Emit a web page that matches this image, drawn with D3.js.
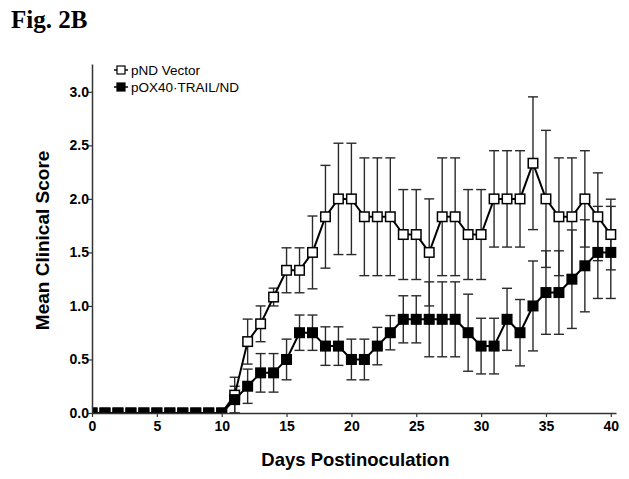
<!DOCTYPE html>
<html><head><meta charset="utf-8">
<script src="https://cdn.jsdelivr.net/npm/d3@7"></script>
<style>body{margin:0;background:#fff;}svg{display:block;}</style>
</head><body>
<script>
const days = [0,1,2,3,4,5,6,7,8,9,10,11,12,13,14,15,16,17,18,19,20,21,22,23,24,25,26,27,28,29,30,31,32,33,34,35,36,37,38,39,40];
const pndMean = [0,0,0,0,0,0,0,0,0,0,0,0.167,0.667,0.833,1.083,1.333,1.333,1.5,1.833,2.0,2.0,1.833,1.833,1.833,1.667,1.667,1.5,1.833,1.833,1.667,1.667,2.0,2.0,2.0,2.333,2.0,1.833,1.833,2.0,1.833,1.667];
const pndSem = [0,0,0,0,0,0,0,0,0,0,0,0.167,0.21,0.167,0.083,0.21,0.21,0.34,0.48,0.52,0.52,0.55,0.55,0.55,0.42,0.42,0.5,0.55,0.55,0.42,0.42,0.45,0.45,0.45,0.62,0.64,0.55,0.55,0.45,0.41,0.33];
const oxMean = [0,0,0,0,0,0,0,0,0,0,0,0.125,0.25,0.375,0.375,0.5,0.75,0.75,0.625,0.625,0.5,0.5,0.625,0.75,0.875,0.875,0.875,0.875,0.875,0.75,0.625,0.625,0.875,0.75,1.0,1.125,1.125,1.25,1.375,1.5,1.5];
const oxSem = [0,0,0,0,0,0,0,0,0,0,0,0.125,0.16,0.18,0.18,0.19,0.165,0.165,0.18,0.18,0.19,0.19,0.175,0.16,0.22,0.22,0.35,0.35,0.35,0.36,0.26,0.26,0.29,0.31,0.42,0.39,0.39,0.46,0.43,0.43,0.43];
const seriesNames = ["pND Vector", "pOX40·TRAIL/ND"];
const xTicks = [0,5,10,15,20,25,30,35,40];
const yTicks = [0,0.5,1.0,1.5,2.0,2.5,3.0];
const titleText = "Fig. 2B";
const xTitle = "Days Postinoculation";
const yTitle = "Mean Clinical Score";

const W = 629, H = 479;
const m = {left: 92, top: 64, right: 13, bottom: 66};
const svg = d3.select("body").append("svg").attr("width", W).attr("height", H);
svg.append("rect").attr("width", W).attr("height", H).attr("fill", "#fff");

const x = d3.scaleLinear().domain([0, 40.4]).range([m.left, W - m.right]);
const y = d3.scaleLinear().domain([0, 3.26]).range([H - m.bottom, m.top]);

const defs = svg.append("defs");
defs.append("clipPath").attr("id", "plot").append("rect")
  .attr("x", m.left).attr("y", 0).attr("width", W - m.right - m.left + 10).attr("height", H - m.bottom);

const axisColor = "#333";
const font = "'Liberation Sans', Arial, Helvetica, sans-serif";

const g = svg.append("g").attr("clip-path", "url(#plot)");

const series = [
  {mean: pndMean, sem: pndSem, fill: "#fff"},
  {mean: oxMean, sem: oxSem, fill: "#000"}
];

const line = d3.line().x((d, i) => x(days[i])).y(d => y(d));
const capW = 5;
series.forEach(s => {
  const eb = g.append("g").attr("stroke", "#2a2a2a").attr("stroke-width", 1.4).attr("fill", "none");
  days.forEach((d, i) => {
    if (s.sem[i] <= 0) return;
    const y1 = y(s.mean[i] + s.sem[i]), y0 = y(s.mean[i] - s.sem[i]);
    eb.append("line").attr("x1", x(d)).attr("x2", x(d)).attr("y1", y1).attr("y2", y0);
    eb.append("line").attr("x1", x(d) - capW).attr("x2", x(d) + capW).attr("y1", y1).attr("y2", y1);
    eb.append("line").attr("x1", x(d) - capW).attr("x2", x(d) + capW).attr("y1", y0).attr("y2", y0);
  });
});
series.forEach(s => {
  g.append("path").attr("d", line(s.mean)).attr("fill", "none").attr("stroke", "#000").attr("stroke-width", 2);
  const sz = 9.5;
  g.append("g").selectAll("rect").data(s.mean).join("rect")
    .attr("x", (d, i) => x(days[i]) - sz / 2).attr("y", d => y(d) - sz / 2)
    .attr("width", sz).attr("height", sz)
    .attr("fill", s.fill).attr("stroke", "#000").attr("stroke-width", 1.5);
});

// axes
const xAxis = svg.append("g").attr("transform", `translate(0,${y(0)})`)
  .call(d3.axisBottom(x).tickValues(xTicks).tickFormat(d3.format("d")).tickSize(4).tickSizeOuter(0));
const yAxis = svg.append("g").attr("transform", `translate(${m.left},0)`)
  .call(d3.axisLeft(y).tickValues(yTicks).tickFormat(d3.format(".1f")).tickSize(4).tickSizeOuter(0));
[xAxis, yAxis].forEach(a => {
  a.select(".domain").attr("stroke", axisColor).attr("stroke-width", 1.5);
  a.selectAll(".tick line").attr("stroke", axisColor).attr("stroke-width", 1.2);
  a.selectAll(".tick text").attr("fill", "#000").style("font-family", font)
    .style("font-size", "14px").style("font-weight", "bold");
});
xAxis.selectAll(".tick text").attr("dy", "0.9em").attr("y", 5);
yAxis.selectAll(".tick text").attr("x", -3);

// titles
svg.append("text").attr("x", (x(0) + x(40)) / 2 + 4).attr("y", 466).attr("text-anchor", "middle")
  .style("font-family", font).style("font-size", "18.5px").style("font-weight", "bold").text(xTitle);
svg.append("text").attr("transform", `translate(49,${(y(0) + y(3)) / 2 - 12}) rotate(-90)`).attr("text-anchor", "middle")
  .style("font-family", font).style("font-size", "19px").style("font-weight", "bold").text(yTitle);
svg.append("text").attr("x", 11).attr("y", 28).style("font-family", "'Liberation Serif', 'Times New Roman', serif")
  .style("font-size", "25px").style("font-weight", "bold").text(titleText);

// legend
const leg = svg.append("g");
[70, 87].forEach((ly, k) => {
  leg.append("line").attr("x1", 114).attr("x2", 128).attr("y1", ly).attr("y2", ly).attr("stroke", "#000").attr("stroke-width", 1.5);
  leg.append("rect").attr("x", 117).attr("y", ly - 4).attr("width", 8).attr("height", 8)
    .attr("fill", series[k].fill).attr("stroke", "#000").attr("stroke-width", 1.2);
  leg.append("text").attr("x", 131).attr("y", ly + 5).style("font-family", font).style("font-size", "13.5px")
    .text(seriesNames[k]);
});
</script>
</body></html>
